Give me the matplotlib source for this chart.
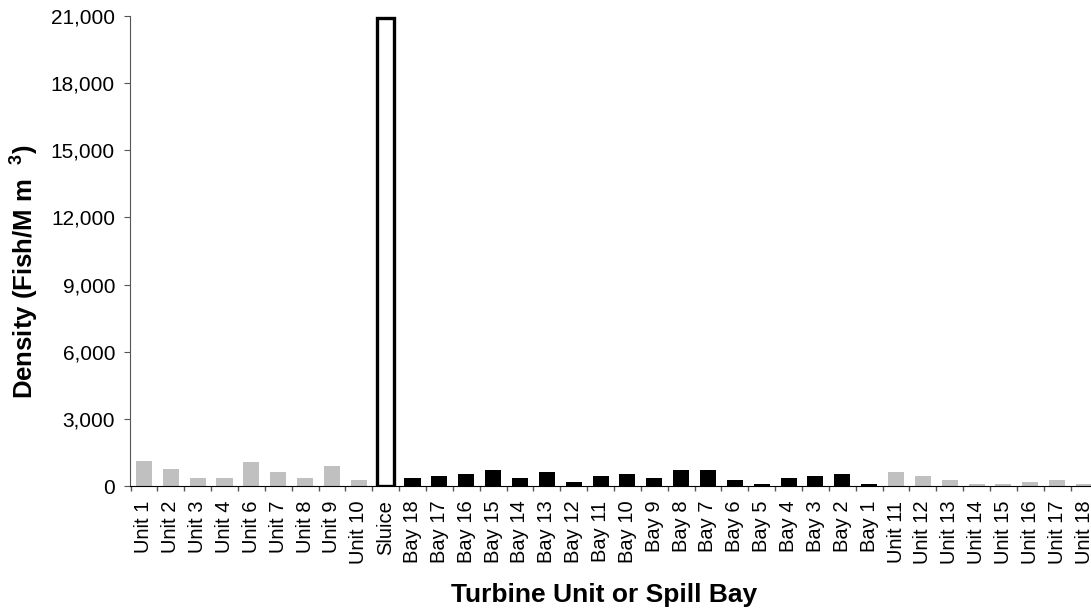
import numpy as np
import matplotlib.pyplot as plt
import matplotlib.ticker as mticker

plt.rcParams['font.family'] = ['Liberation Sans', 'DejaVu Sans']
plt.rcParams['mathtext.fontset'] = 'custom'
plt.rcParams['mathtext.rm'] = 'Liberation Sans'
plt.rcParams['mathtext.bf'] = 'Liberation Sans:bold'

# categorias, na ordem do grafico
locais = ['Unit 1', 'Unit 2', 'Unit 3', 'Unit 4', 'Unit 6', 'Unit 7', 'Unit 8', 'Unit 9', 'Unit 10',
          'Sluice',
          'Bay 18', 'Bay 17', 'Bay 16', 'Bay 15', 'Bay 14', 'Bay 13', 'Bay 12', 'Bay 11', 'Bay 10',
          'Bay 9', 'Bay 8', 'Bay 7', 'Bay 6', 'Bay 5', 'Bay 4', 'Bay 3', 'Bay 2', 'Bay 1',
          'Unit 11', 'Unit 12', 'Unit 13', 'Unit 14', 'Unit 15', 'Unit 16', 'Unit 17', 'Unit 18']
densidade = [1120, 760, 360, 360, 1070, 630, 360, 890, 270,
             20900,
             360, 450, 540, 720, 360, 630, 180, 450, 540,
             360, 720, 720, 270, 90, 360, 450, 540, 90,
             630, 450, 270, 90, 90, 180, 270, 90]
tipo = ['unit'] * 9 + ['sluice'] + ['bay'] * 18 + ['unit'] * 8

cores = {'unit': '#C0C0C0', 'sluice': 'white', 'bay': 'black'}

fig = plt.figure(figsize=(10.91, 6.08), dpi=100)
ax = fig.add_axes([130 / 1091, 1 - 486 / 608, 1 - 130 / 1091, 470 / 608])

x = np.arange(len(locais))
for xi, v, t in zip(x, densidade, tipo):
    if t == 'sluice':
        ax.bar(xi, v, width=0.62, color='white', edgecolor='black', linewidth=2.4)
    else:
        ax.bar(xi, v, width=0.6, color=cores[t], edgecolor='none')

ax.set_xlim(-0.52, 35.26)
ax.set_ylim(0, 21000)
ax.set_yticks(np.arange(0, 21001, 3000))
ax.yaxis.set_major_formatter(mticker.FuncFormatter(lambda v, pos: '{:,.0f}'.format(v)))

# ticks entre categorias (estilo excel)
ax.set_xticks(x - 0.5, minor=False)
ax.set_xticklabels([])
ax.set_xticks(x, minor=True)
ax.set_xticklabels(locais, minor=True, rotation=90, fontsize=14.5)
ax.tick_params(axis='x', which='minor', length=0, pad=10.5)
ax.tick_params(axis='x', which='major', length=3.6, direction='out', width=1, color='#555555')
ax.tick_params(axis='y', length=4.3, direction='out', labelsize=15, pad=6.5, color='#555555')

for s in ['top', 'right']:
    ax.spines[s].set_visible(False)
ax.spines['left'].set_color('#555555')

ax.set_ylabel(r'Density (Fish/M m  $^{\mathbf{3}}$)', fontsize=18.5, fontweight='bold')
ax.yaxis.set_label_coords(-0.094, 0.457)
ax.set_xlabel('Turbine Unit or Spill Bay', fontsize=19, fontweight='bold')
ax.xaxis.set_label_coords(0.493, -0.206)

fig.savefig('out.png', dpi=100)
